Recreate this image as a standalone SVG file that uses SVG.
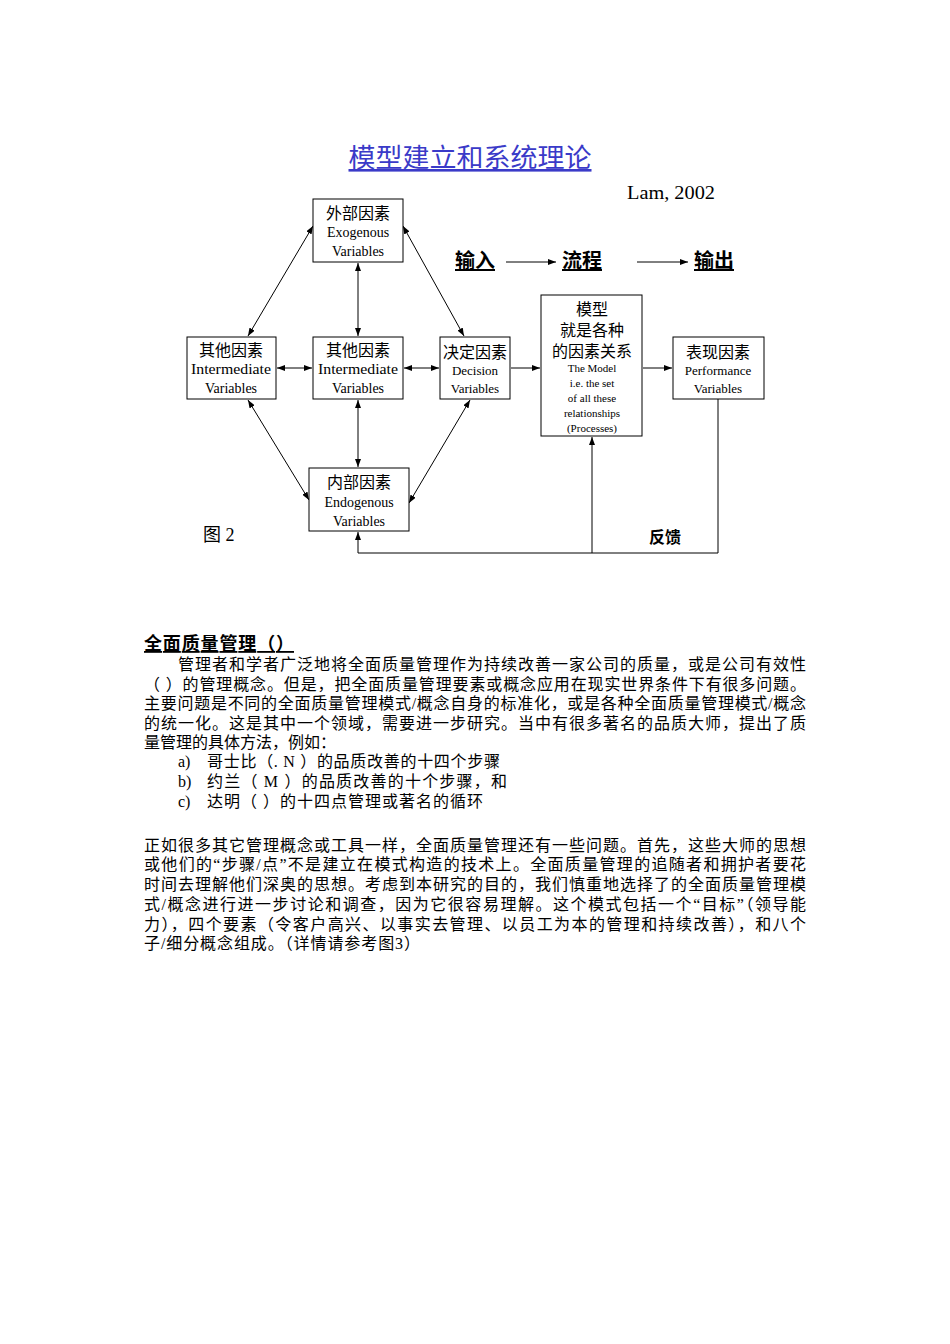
<svg xmlns="http://www.w3.org/2000/svg" width="950" height="1344" viewBox="0 0 950 1344">
<style>
.box{fill:#fff;stroke:#000;stroke-width:1}
.cn{font-family:"Liberation Serif","Noto Sans CJK SC",serif;font-size:16px;fill:#000;text-anchor:middle}
.en{font-family:"Liberation Serif","Noto Sans CJK SC",serif;font-size:14px;fill:#000;text-anchor:middle}
.en13{font-family:"Liberation Serif","Noto Sans CJK SC",serif;font-size:13px;fill:#000;text-anchor:middle}
.sm{font-family:"Liberation Serif","Noto Sans CJK SC",serif;font-size:11px;fill:#000;text-anchor:middle}
.ln{stroke:#000;stroke-width:1;fill:none}
.body{font-family:"Liberation Serif","Noto Sans CJK SC",serif;font-size:16px;fill:#000}
.hd{font-family:"Liberation Serif","Noto Sans CJK SC",serif;font-size:20px;font-weight:bold;fill:#000;text-decoration:underline}
</style>
<defs>
<marker id="ah" markerWidth="8" markerHeight="6" refX="8" refY="3" orient="auto-start-reverse" markerUnits="userSpaceOnUse">
<path d="M0,0 L8,3 L0,6 Z" fill="#000"/>
</marker>
</defs>
<rect width="950" height="1344" fill="#fff"/>

<text x="470" y="167" font-family="Liberation Serif,'Noto Sans CJK SC',serif" font-size="26" fill="#3a3ac8" text-anchor="middle" text-decoration="underline" textLength="243" lengthAdjust="spacingAndGlyphs">模型建立和系统理论</text>
<text x="627" y="199" font-family="Liberation Serif,serif" font-size="19" fill="#000" textLength="88" lengthAdjust="spacingAndGlyphs">Lam, 2002</text>

<g id="io">
<text x="455" y="268" class="hd">输入</text>
<text x="562" y="268" class="hd">流程</text>
<text x="694" y="268" class="hd">输出</text>
</g>

<g id="connectors">
<line class="ln" x1="506" y1="262" x2="556" y2="262" marker-end="url(#ah)"/>
<line class="ln" x1="637" y1="262" x2="688" y2="262" marker-end="url(#ah)"/>
<line class="ln" x1="277" y1="368" x2="312" y2="368" marker-start="url(#ah)" marker-end="url(#ah)"/>
<line class="ln" x1="404" y1="368" x2="439" y2="368" marker-start="url(#ah)" marker-end="url(#ah)"/>
<line class="ln" x1="511" y1="368" x2="540" y2="368" marker-end="url(#ah)"/>
<line class="ln" x1="643" y1="368" x2="672" y2="368" marker-end="url(#ah)"/>
<line class="ln" x1="358" y1="263" x2="358" y2="336" marker-start="url(#ah)" marker-end="url(#ah)"/>
<line class="ln" x1="358" y1="400" x2="358" y2="467" marker-start="url(#ah)" marker-end="url(#ah)"/>
<line class="ln" x1="313" y1="226" x2="248" y2="336" marker-start="url(#ah)" marker-end="url(#ah)"/>
<line class="ln" x1="403" y1="226" x2="464" y2="336" marker-start="url(#ah)" marker-end="url(#ah)"/>
<line class="ln" x1="248" y1="400" x2="309" y2="500" marker-start="url(#ah)" marker-end="url(#ah)"/>
<line class="ln" x1="470" y1="400" x2="409" y2="503" marker-start="url(#ah)" marker-end="url(#ah)"/>
<polyline class="ln" points="718,399 718,553 358,553 358,532" marker-end="url(#ah)"/>
<line class="ln" x1="592" y1="553" x2="592" y2="437" marker-end="url(#ah)"/>
</g>

<g id="exo">
<rect class="box" x="313" y="199" width="90" height="63"/>
<text class="cn" x="358" y="219">外部因素</text>
<text class="en" x="358" y="237">Exogenous</text>
<text class="en" x="358" y="256">Variables</text>
</g>
<g id="int1">
<rect class="box" x="187" y="337" width="89" height="62"/>
<text class="cn" x="231" y="356">其他因素</text>
<text class="en" x="231" y="374" textLength="80" lengthAdjust="spacingAndGlyphs">Intermediate</text>
<text class="en" x="231" y="393">Variables</text>
</g>
<g id="int2">
<rect class="box" x="313" y="337" width="90" height="62"/>
<text class="cn" x="358" y="356">其他因素</text>
<text class="en" x="358" y="374" textLength="80" lengthAdjust="spacingAndGlyphs">Intermediate</text>
<text class="en" x="358" y="393">Variables</text>
</g>
<g id="dec">
<rect class="box" x="440" y="337" width="70" height="62"/>
<text class="cn" x="475" y="358">决定因素</text>
<text class="en13" x="475" y="375">Decision</text>
<text class="en13" x="475" y="393">Variables</text>
</g>
<g id="model">
<rect class="box" x="541" y="295" width="101" height="141"/>
<text class="cn" x="592" y="315">模型</text>
<text class="cn" x="592" y="336">就是各种</text>
<text class="cn" x="592" y="357">的因素关系</text>
<text class="sm" x="592" y="372">The Model</text>
<text class="sm" x="592" y="387">i.e. the set</text>
<text class="sm" x="592" y="402">of all these</text>
<text class="sm" x="592" y="417">relationships</text>
<text class="sm" x="592" y="432">(Processes)</text>
</g>
<g id="perf">
<rect class="box" x="673" y="337" width="91" height="62"/>
<text class="cn" x="718" y="358">表现因素</text>
<text class="en13" x="718" y="375">Performance</text>
<text class="en13" x="718" y="393">Variables</text>
</g>
<g id="endo">
<rect class="box" x="309" y="468" width="100" height="63"/>
<text class="cn" x="359" y="488">内部因素</text>
<text class="en" x="359" y="507">Endogenous</text>
<text class="en" x="359" y="526">Variables</text>
</g>

<text x="203" y="541" font-family="Liberation Serif,'Noto Sans CJK SC',serif" font-size="18" fill="#000">图 2</text>
<text x="649" y="543" font-family="Liberation Serif,'Noto Sans CJK SC',serif" font-size="16" font-weight="bold" fill="#000">反馈</text>

<g id="text1">
<text x="144" y="650" class="body" style="font-size:18px;font-weight:bold;text-decoration:underline" textLength="150" lengthAdjust="spacing">全面质量管理（）</text>
<text x="178" y="670" class="body" textLength="628" lengthAdjust="spacing">管理者和学者广泛地将全面质量管理作为持续改善一家公司的质量，或是公司有效性</text>
<text x="144" y="690" class="body" textLength="662" lengthAdjust="spacing">（ ）的管理概念。但是，把全面质量管理要素或概念应用在现实世界条件下有很多问题。</text>
<text x="144" y="709" class="body" textLength="662" lengthAdjust="spacing">主要问题是不同的全面质量管理模式/概念自身的标准化，或是各种全面质量管理模式/概念</text>
<text x="144" y="729" class="body" textLength="662" lengthAdjust="spacing">的统一化。这是其中一个领域，需要进一步研究。当中有很多著名的品质大师，提出了质</text>
<text x="144" y="748" class="body" textLength="192" lengthAdjust="spacing">量管理的具体方法，例如：</text>
<text x="178" y="767" class="body">a)</text>
<text x="207" y="767" class="body" textLength="293" lengthAdjust="spacing">哥士比（. N ）的品质改善的十四个步骤</text>
<text x="178" y="787" class="body">b)</text>
<text x="207" y="787" class="body" textLength="300" lengthAdjust="spacing">约兰（ M ）的品质改善的十个步骤，和</text>
<text x="178" y="807" class="body">c)</text>
<text x="207" y="807" class="body" textLength="276" lengthAdjust="spacing">达明（ ）的十四点管理或著名的循环</text>
</g>
<g id="text2">
<text x="144" y="851" class="body" textLength="662" lengthAdjust="spacing">正如很多其它管理概念或工具一样，全面质量管理还有一些问题。首先，这些大师的思想</text>
<text x="144" y="870" class="body" textLength="662" lengthAdjust="spacing">或他们的“步骤/点”不是建立在模式构造的技术上。全面质量管理的追随者和拥护者要花</text>
<text x="144" y="890" class="body" textLength="662" lengthAdjust="spacing">时间去理解他们深奥的思想。考虑到本研究的目的，我们慎重地选择了的全面质量管理模</text>
<text x="144" y="910" class="body" textLength="662" lengthAdjust="spacing">式/概念进行进一步讨论和调查，因为它很容易理解。这个模式包括一个“目标”（领导能</text>
<text x="144" y="930" class="body" textLength="662" lengthAdjust="spacing">力），四个要素（令客户高兴、以事实去管理、以员工为本的管理和持续改善），和八个</text>
<text x="144" y="949" class="body" textLength="276" lengthAdjust="spacing">子/细分概念组成。（详情请参考图3）</text>
</g>
</svg>
